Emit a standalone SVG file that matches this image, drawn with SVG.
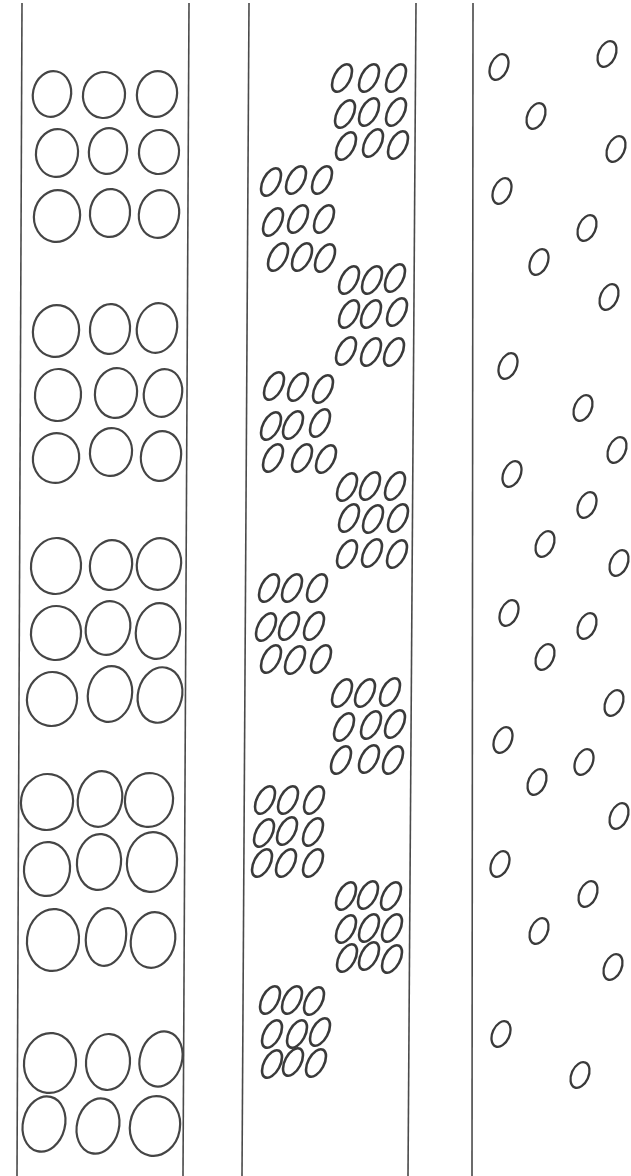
<svg xmlns="http://www.w3.org/2000/svg" xmlns:xlink="http://www.w3.org/1999/xlink" width="631" height="1176" viewBox="0 0 631 1176">
<style>
.ln{stroke:#4a4a4a;stroke-width:1.6;fill:none}
.big{fill:none;stroke:#454545;stroke-width:2.2}
.sm{fill:none;stroke:#3a3a3a;stroke-width:2.6}
.tn{fill:none;stroke:#3a3a3a;stroke-width:2.3}
</style>
<defs>
<ellipse id="s" rx="8" ry="15" transform="rotate(28)" class="sm"/>
<ellipse id="t" rx="8.5" ry="13.5" transform="rotate(24)" class="tn"/>
</defs>
<rect width="631" height="1176" fill="#ffffff"/>
<g id="lines">
<line class="ln" x1="22" y1="3" x2="17" y2="1176"/>
<line class="ln" x1="189" y1="3" x2="183" y2="1176"/>
<line class="ln" x1="249" y1="3" x2="242" y2="1176"/>
<line class="ln" x1="416" y1="3" x2="408" y2="1176"/>
<line class="ln" x1="473" y1="3" x2="472" y2="1176"/>
</g>
<g id="column1">
<ellipse class="big" cx="52" cy="94" rx="19" ry="23" transform="rotate(12 52 94)"/>
<ellipse class="big" cx="104" cy="95" rx="21" ry="23" transform="rotate(8 104 95)"/>
<ellipse class="big" cx="157" cy="94" rx="20" ry="23" transform="rotate(10 157 94)"/>
<ellipse class="big" cx="57" cy="153" rx="21" ry="24" transform="rotate(8 57 153)"/>
<ellipse class="big" cx="108" cy="151" rx="19" ry="23" transform="rotate(10 108 151)"/>
<ellipse class="big" cx="159" cy="152" rx="20" ry="22" transform="rotate(8 159 152)"/>
<ellipse class="big" cx="57" cy="216" rx="23" ry="26" transform="rotate(10 57 216)"/>
<ellipse class="big" cx="110" cy="213" rx="20" ry="24" transform="rotate(6 110 213)"/>
<ellipse class="big" cx="159" cy="214" rx="20" ry="24" transform="rotate(12 159 214)"/>

<ellipse class="big" cx="56" cy="331" rx="23" ry="26" transform="rotate(10 56 331)"/>
<ellipse class="big" cx="110" cy="329" rx="20" ry="25" transform="rotate(5 110 329)"/>
<ellipse class="big" cx="157" cy="328" rx="20" ry="25" transform="rotate(12 157 328)"/>
<ellipse class="big" cx="58" cy="395" rx="23" ry="26" transform="rotate(6 58 395)"/>
<ellipse class="big" cx="116" cy="393" rx="21" ry="25" transform="rotate(8 116 393)"/>
<ellipse class="big" cx="163" cy="393" rx="19" ry="24" transform="rotate(12 163 393)"/>
<ellipse class="big" cx="56" cy="458" rx="23" ry="25" transform="rotate(14 56 458)"/>
<ellipse class="big" cx="111" cy="452" rx="21" ry="24" transform="rotate(8 111 452)"/>
<ellipse class="big" cx="161" cy="456" rx="20" ry="25" transform="rotate(10 161 456)"/>

<ellipse class="big" cx="56" cy="566" rx="25" ry="28" transform="rotate(6 56 566)"/>
<ellipse class="big" cx="111" cy="565" rx="21" ry="25" transform="rotate(10 111 565)"/>
<ellipse class="big" cx="159" cy="564" rx="22" ry="26" transform="rotate(12 159 564)"/>
<ellipse class="big" cx="56" cy="633" rx="25" ry="27" transform="rotate(8 56 633)"/>
<ellipse class="big" cx="108" cy="628" rx="22" ry="27" transform="rotate(14 108 628)"/>
<ellipse class="big" cx="158" cy="631" rx="22" ry="28" transform="rotate(10 158 631)"/>
<ellipse class="big" cx="52" cy="699" rx="25" ry="27" transform="rotate(10 52 699)"/>
<ellipse class="big" cx="110" cy="694" rx="22" ry="28" transform="rotate(10 110 694)"/>
<ellipse class="big" cx="160" cy="695" rx="22" ry="28" transform="rotate(14 160 695)"/>

<ellipse class="big" cx="47" cy="802" rx="26" ry="28" transform="rotate(10 47 802)"/>
<ellipse class="big" cx="100" cy="799" rx="22" ry="28" transform="rotate(12 100 799)"/>
<ellipse class="big" cx="149" cy="800" rx="24" ry="27" transform="rotate(8 149 800)"/>
<ellipse class="big" cx="47" cy="869" rx="23" ry="27" transform="rotate(6 47 869)"/>
<ellipse class="big" cx="99" cy="862" rx="22" ry="28" transform="rotate(6 99 862)"/>
<ellipse class="big" cx="152" cy="862" rx="25" ry="30" transform="rotate(8 152 862)"/>
<ellipse class="big" cx="53" cy="940" rx="26" ry="31" transform="rotate(6 53 940)"/>
<ellipse class="big" cx="106" cy="937" rx="20" ry="29" transform="rotate(8 106 937)"/>
<ellipse class="big" cx="153" cy="940" rx="22" ry="28" transform="rotate(12 153 940)"/>

<ellipse class="big" cx="50" cy="1063" rx="26" ry="30" transform="rotate(6 50 1063)"/>
<ellipse class="big" cx="108" cy="1062" rx="22" ry="28" transform="rotate(4 108 1062)"/>
<ellipse class="big" cx="161" cy="1059" rx="21" ry="28" transform="rotate(16 161 1059)"/>
<ellipse class="big" cx="44" cy="1124" rx="21" ry="28" transform="rotate(14 44 1124)"/>
<ellipse class="big" cx="98" cy="1126" rx="21" ry="28" transform="rotate(14 98 1126)"/>
<ellipse class="big" cx="155" cy="1126" rx="25" ry="30" transform="rotate(10 155 1126)"/>
</g>
<g id="column2">
<use xlink:href="#s" x="342" y="78"/><use xlink:href="#s" x="369" y="78"/><use xlink:href="#s" x="396" y="78"/>
<use xlink:href="#s" x="345" y="114"/><use xlink:href="#s" x="369" y="112"/><use xlink:href="#s" x="396" y="112"/>
<use xlink:href="#s" x="346" y="146"/><use xlink:href="#s" x="373" y="143"/><use xlink:href="#s" x="398" y="145"/>

<use xlink:href="#s" x="271" y="182"/><use xlink:href="#s" x="296" y="180"/><use xlink:href="#s" x="322" y="180"/>
<use xlink:href="#s" x="273" y="222"/><use xlink:href="#s" x="298" y="219"/><use xlink:href="#s" x="324" y="219"/>
<use xlink:href="#s" x="278" y="257"/><use xlink:href="#s" x="302" y="257"/><use xlink:href="#s" x="325" y="258"/>

<use xlink:href="#s" x="349" y="280"/><use xlink:href="#s" x="372" y="280"/><use xlink:href="#s" x="395" y="278"/>
<use xlink:href="#s" x="349" y="314"/><use xlink:href="#s" x="371" y="314"/><use xlink:href="#s" x="397" y="312"/>
<use xlink:href="#s" x="346" y="351"/><use xlink:href="#s" x="371" y="352"/><use xlink:href="#s" x="394" y="352"/>

<use xlink:href="#s" x="274" y="386"/><use xlink:href="#s" x="298" y="387"/><use xlink:href="#s" x="323" y="389"/>
<use xlink:href="#s" x="271" y="426"/><use xlink:href="#s" x="293" y="425"/><use xlink:href="#s" x="320" y="423"/>
<use xlink:href="#s" x="273" y="458"/><use xlink:href="#s" x="302" y="458"/><use xlink:href="#s" x="326" y="459"/>

<use xlink:href="#s" x="347" y="487"/><use xlink:href="#s" x="370" y="486"/><use xlink:href="#s" x="395" y="486"/>
<use xlink:href="#s" x="349" y="518"/><use xlink:href="#s" x="373" y="519"/><use xlink:href="#s" x="398" y="518"/>
<use xlink:href="#s" x="347" y="554"/><use xlink:href="#s" x="372" y="553"/><use xlink:href="#s" x="397" y="554"/>

<use xlink:href="#s" x="269" y="588"/><use xlink:href="#s" x="292" y="588"/><use xlink:href="#s" x="317" y="588"/>
<use xlink:href="#s" x="266" y="627"/><use xlink:href="#s" x="289" y="626"/><use xlink:href="#s" x="314" y="626"/>
<use xlink:href="#s" x="271" y="659"/><use xlink:href="#s" x="295" y="660"/><use xlink:href="#s" x="321" y="659"/>

<use xlink:href="#s" x="342" y="693"/><use xlink:href="#s" x="365" y="693"/><use xlink:href="#s" x="390" y="692"/>
<use xlink:href="#s" x="344" y="727"/><use xlink:href="#s" x="371" y="725"/><use xlink:href="#s" x="395" y="724"/>
<use xlink:href="#s" x="341" y="760"/><use xlink:href="#s" x="369" y="759"/><use xlink:href="#s" x="393" y="760"/>

<use xlink:href="#s" x="265" y="800"/><use xlink:href="#s" x="288" y="800"/><use xlink:href="#s" x="314" y="800"/>
<use xlink:href="#s" x="264" y="833"/><use xlink:href="#s" x="287" y="831"/><use xlink:href="#s" x="313" y="832"/>
<use xlink:href="#s" x="262" y="863"/><use xlink:href="#s" x="286" y="863"/><use xlink:href="#s" x="313" y="863"/>

<use xlink:href="#s" x="346" y="896"/><use xlink:href="#s" x="368" y="895"/><use xlink:href="#s" x="391" y="896"/>
<use xlink:href="#s" x="346" y="929"/><use xlink:href="#s" x="369" y="928"/><use xlink:href="#s" x="392" y="928"/>
<use xlink:href="#s" x="347" y="958"/><use xlink:href="#s" x="369" y="956"/><use xlink:href="#s" x="392" y="959"/>

<use xlink:href="#s" x="270" y="1000"/><use xlink:href="#s" x="292" y="1000"/><use xlink:href="#s" x="314" y="1001"/>
<use xlink:href="#s" x="272" y="1034"/><use xlink:href="#s" x="297" y="1034"/><use xlink:href="#s" x="320" y="1032"/>
<use xlink:href="#s" x="272" y="1064"/><use xlink:href="#s" x="293" y="1062"/><use xlink:href="#s" x="316" y="1063"/>
</g>
<g id="column3">
<use xlink:href="#t" x="499" y="67"/>
<use xlink:href="#t" x="607" y="54"/>
<use xlink:href="#t" x="536" y="116"/>
<use xlink:href="#t" x="616" y="149"/>
<use xlink:href="#t" x="502" y="191"/>
<use xlink:href="#t" x="587" y="228"/>
<use xlink:href="#t" x="539" y="262"/>
<use xlink:href="#t" x="609" y="297"/>
<use xlink:href="#t" x="508" y="366"/>
<use xlink:href="#t" x="583" y="408"/>
<use xlink:href="#t" x="617" y="450"/>
<use xlink:href="#t" x="512" y="474"/>
<use xlink:href="#t" x="587" y="505"/>
<use xlink:href="#t" x="545" y="544"/>
<use xlink:href="#t" x="619" y="563"/>
<use xlink:href="#t" x="509" y="613"/>
<use xlink:href="#t" x="587" y="626"/>
<use xlink:href="#t" x="545" y="657"/>
<use xlink:href="#t" x="614" y="703"/>
<use xlink:href="#t" x="503" y="740"/>
<use xlink:href="#t" x="584" y="762"/>
<use xlink:href="#t" x="537" y="782"/>
<use xlink:href="#t" x="619" y="816"/>
<use xlink:href="#t" x="500" y="864"/>
<use xlink:href="#t" x="588" y="894"/>
<use xlink:href="#t" x="539" y="931"/>
<use xlink:href="#t" x="613" y="967"/>
<use xlink:href="#t" x="501" y="1034"/>
<use xlink:href="#t" x="580" y="1075"/>
</g>
</svg>
